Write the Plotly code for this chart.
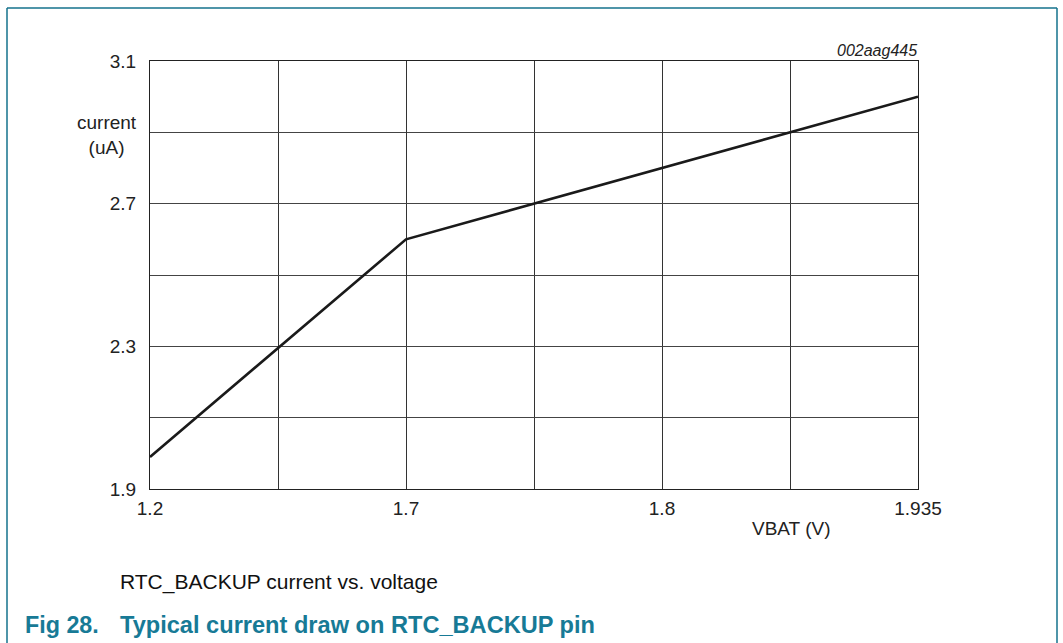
import numpy as np
import plotly.graph_objects as go

# Data
vbat = [1.2, 1.7, 1.935]          # V
current = [1.99, 2.60, 3.00]      # uA
x_tick_labels = ["1.2", "1.7", "1.8", "1.935"]
x_tick_values = [1.2, 1.7, 1.8, 1.935]
y_tick_values = [1.9, 2.3, 2.7, 3.1]

# Non-linear (piecewise) VBAT scale: each labelled value sits two grid cells apart
grid_pos = [0, 2, 4, 6]
def xscale(v):
    return np.interp(v, x_tick_values, grid_pos)

W, H = 1063, 643
L, R, T, B = 150, 145, 61, 154
pw, ph = W - L - R, H - T - B
def px(x):
    return (x - L) / pw
def py(y):
    return (H - B - y) / ph

TEAL = "#14728c"
FONT = "Liberation Sans, Arial, sans-serif"

fig = go.Figure()
fig.add_trace(go.Scatter(
    x=xscale(vbat), y=current, mode="lines",
    line=dict(color="#1a1a1a", width=2.6), showlegend=False, hoverinfo="skip"))

fig.update_xaxes(
    range=[0, 6], tickvals=xscale(x_tick_values), ticktext=x_tick_labels,
    showgrid=True, gridcolor="#333", gridwidth=1,
    minor=dict(dtick=1, tick0=0, showgrid=True, gridcolor="#333", gridwidth=1),
    showline=True, linecolor="#222", linewidth=1, mirror=True,
    ticks="", ticklabelstandoff=2, zeroline=False,
    tickfont=dict(family=FONT, size=19, color="#222"))
fig.update_yaxes(
    range=[1.9, 3.1], tickvals=y_tick_values,
    ticktext=[f"{v:.1f}" for v in y_tick_values],
    showgrid=True, gridcolor="#444", gridwidth=1,
    minor=dict(dtick=0.2, tick0=1.9, showgrid=True, gridcolor="#444", gridwidth=1),
    showline=True, linecolor="#222", linewidth=1, mirror=True,
    ticks="", ticklabelstandoff=9, zeroline=False,
    tickfont=dict(family=FONT, size=19, color="#222"))

ann = [
    dict(text="current<br>(uA)", x=px(107), y=py(135), xanchor="center", yanchor="middle",
         font=dict(family=FONT, size=19, color="#222"), align="center"),
    dict(text="VBAT (V)", x=px(791), y=py(528), xanchor="center", yanchor="middle",
         font=dict(family=FONT, size=19, color="#222")),
    dict(text="<i>002aag445</i>", x=px(919), y=py(50), xanchor="right", yanchor="middle",
         font=dict(family=FONT, size=16, color="#222")),
    dict(text="RTC_BACKUP current vs. voltage", x=px(118), y=py(582), xanchor="left", yanchor="middle",
         font=dict(family=FONT, size=21, color="#111")),
    dict(text="<b>Fig 28.</b>", x=px(23), y=py(625),
         xanchor="left", yanchor="middle", font=dict(family=FONT, size=23.3, color="#177a96")),
    dict(text="<b>Typical current draw on RTC_BACKUP pin</b>", x=px(118), y=py(625),
         xanchor="left", yanchor="middle", font=dict(family=FONT, size=23.6, color="#177a96")),
]
for a in ann:
    a.update(xref="paper", yref="paper", showarrow=False)

shapes = [
    dict(type="line", x0=px(7), x1=px(7), y0=py(8), y1=py(700), line=dict(color=TEAL, width=1.5)),
    dict(type="line", x0=px(7), x1=px(1057), y0=py(8), y1=py(8), line=dict(color=TEAL, width=1.5)),
    dict(type="line", x0=px(1057), x1=px(1057), y0=py(8), y1=py(700), line=dict(color=TEAL, width=1.5)),
]
for s in shapes:
    s.update(xref="paper", yref="paper", layer="above")

fig.update_layout(
    width=W, height=H, margin=dict(l=L, r=R, t=T, b=B),
    paper_bgcolor="white", plot_bgcolor="white",
    annotations=ann, shapes=shapes, showlegend=False)

fig.write_html("out.html", config={"displayModeBar": False},
               post_script="document.body.style.margin='0';document.body.style.overflow='hidden';")
